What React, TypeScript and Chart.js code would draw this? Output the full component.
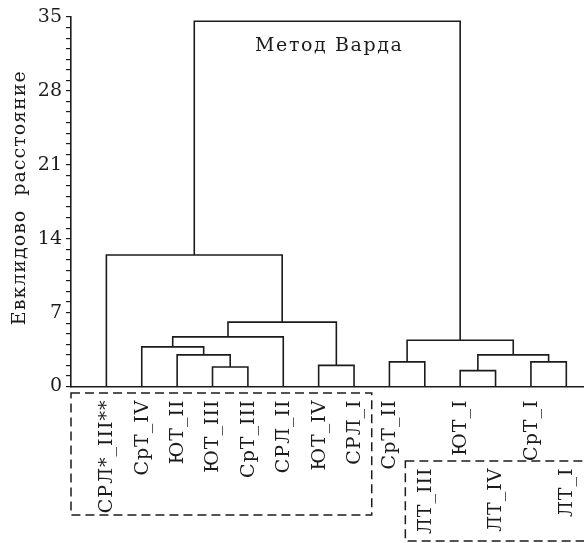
import React, { useEffect, useRef } from "react";
import { Chart, registerables } from "chart.js";

Chart.register(...registerables);

// Leaves in dendrogram order (left to right)
const leafLabels = [
  "СРЛ*_III**", "СрТ_IV", "ЮТ_II", "ЮТ_III", "СрТ_III", "СРЛ_II", "ЮТ_IV", "СРЛ_I",
  "СрТ_II", "ЛТ_III", "ЮТ_I", "ЛТ_IV", "СрТ_I", "ЛТ_I",
];
// Group box each leaf label belongs to (0 = first dashed box, -1 = none, 1 = second dashed box)
const leafGroup = [0, 0, 0, 0, 0, 0, 0, 0, -1, 1, -1, 1, -1, 1];

// Merges: node ids 0..13 are leaves, each merge creates node 14, 15, ...
const mergeLeft = [3, 2, 1, 16, 6, 17, 0, 8, 10, 12, 22, 21, 20];
const mergeRight = [4, 14, 15, 5, 7, 18, 19, 9, 11, 13, 23, 24, 25];
const mergeHeight = [1.85, 3.0, 3.75, 4.7, 2.0, 6.1, 12.45, 2.33, 1.5, 2.33, 3.0, 4.38, 34.6];

const yTicks = [0, 7, 14, 21, 28, 35];
const yTitle = "Евклидово  расстояние";
const chartTitle = "Метод Варда";

const FONT = "'DejaVu Serif', serif";
const INK = "#1b1b1b";

function buildDatasets() {
  const nodeX: number[] = leafLabels.map((_, i) => i + 1);
  const nodeY: number[] = leafLabels.map(() => 0);
  const datasets: any[] = [];
  mergeLeft.forEach((l, k) => {
    const r = mergeRight[k];
    const h = mergeHeight[k];
    datasets.push({
      data: [
        { x: nodeX[l], y: nodeY[l] },
        { x: nodeX[l], y: h },
        { x: nodeX[r], y: h },
        { x: nodeX[r], y: nodeY[r] },
      ],
      borderColor: INK,
      borderWidth: 1.6,
      pointRadius: 0,
      tension: 0,
      fill: false,
    });
    nodeX.push((nodeX[l] + nodeX[r]) / 2);
    nodeY.push(h);
  });
  return datasets;
}

const textPlugin = {
  id: "dendroText",
  afterDraw(chart: any) {
    const ctx = chart.ctx as CanvasRenderingContext2D;
    const xs = chart.scales.x;
    const ys = chart.scales.y;
    const area = chart.chartArea;
    ctx.save();
    ctx.fillStyle = INK;
    ctx.font = `19px ${FONT}`;
    (ctx as any).letterSpacing = "1px";

    // leaf labels, rotated
    leafLabels.forEach((lab, i) => {
      const px = xs.getPixelForValue(i + 1);
      const py = area.bottom + (leafGroup[i] === 1 ? 81 : 13);
      ctx.save();
      ctx.translate(px, py);
      ctx.rotate(-Math.PI / 2);
      ctx.textAlign = "right";
      ctx.textBaseline = "middle";
      ctx.fillText(lab, 0, 1);
      ctx.restore();
    });

    // y axis title
    ctx.save();
    ctx.translate(20, (area.top + area.bottom) / 2 - 4);
    ctx.rotate(-Math.PI / 2);
    ctx.textAlign = "center";
    ctx.textBaseline = "middle";
    ctx.fillText(yTitle, 0, 0);
    ctx.restore();

    // method title
    (ctx as any).letterSpacing = "1.6px";
    ctx.textAlign = "left";
    ctx.textBaseline = "alphabetic";
    ctx.fillText(chartTitle, 255, ys.getPixelForValue(31.75));

    // dashed boxes
    (ctx as any).letterSpacing = "0px";
    ctx.strokeStyle = INK;
    ctx.lineWidth = 1.5;
    ctx.setLineDash([9, 5]);
    const b0l = xs.getPixelForValue(0);
    const b0r = xs.getPixelForValue(8.5);
    ctx.strokeRect(b0l, area.bottom + 6.5, b0r - b0l, 122);
    const b1l = xs.getPixelForValue(9.45);
    ctx.strokeRect(b1l, area.bottom + 74.5, 700 - b1l, 80);
    ctx.restore();
  },
};

export default function App() {
  const ref = useRef<HTMLCanvasElement | null>(null);
  useEffect(() => {
    document.body.style.margin = "0";
    const chart = new Chart(ref.current as HTMLCanvasElement, {
      type: "line",
      data: { datasets: buildDatasets() },
      options: {
        animation: false,
        responsive: false,
        devicePixelRatio: 1,
        layout: { padding: { top: 17, left: 0, right: 0, bottom: 0 } },
        plugins: { legend: { display: false }, tooltip: { enabled: false }, title: { display: false } },
        scales: {
          x: {
            type: "linear",
            min: 0,
            max: 14.5,
            ticks: { display: false },
            grid: { display: true, drawOnChartArea: false, drawTicks: false },
            border: { display: true, color: INK, width: 1.6 },
            afterFit: (s: any) => {
              s.height = 156.5;
            },
          },
          y: {
            type: "linear",
            min: 0,
            max: 35,
            ticks: {
              stepSize: 1,
              autoSkip: false,
              maxTicksLimit: 100,
              color: INK,
              padding: 4,
              font: { family: FONT, size: 19 },
              callback: (v: any) => (yTicks.includes(Number(v)) ? String(v) : ""),
            },
            grid: { drawOnChartArea: false, drawTicks: true, tickLength: 5, color: INK, lineWidth: 1.2 },
            border: { display: true, color: INK, width: 1.6 },
            afterFit: (s: any) => {
              s.width = 71;
            },
          },
        },
      },
      plugins: [textPlugin],
    });
    return () => chart.destroy();
  }, []);
  return <canvas ref={ref} width={584} height={543} style={{ display: "block", width: 584, height: 543 }} />;
}
